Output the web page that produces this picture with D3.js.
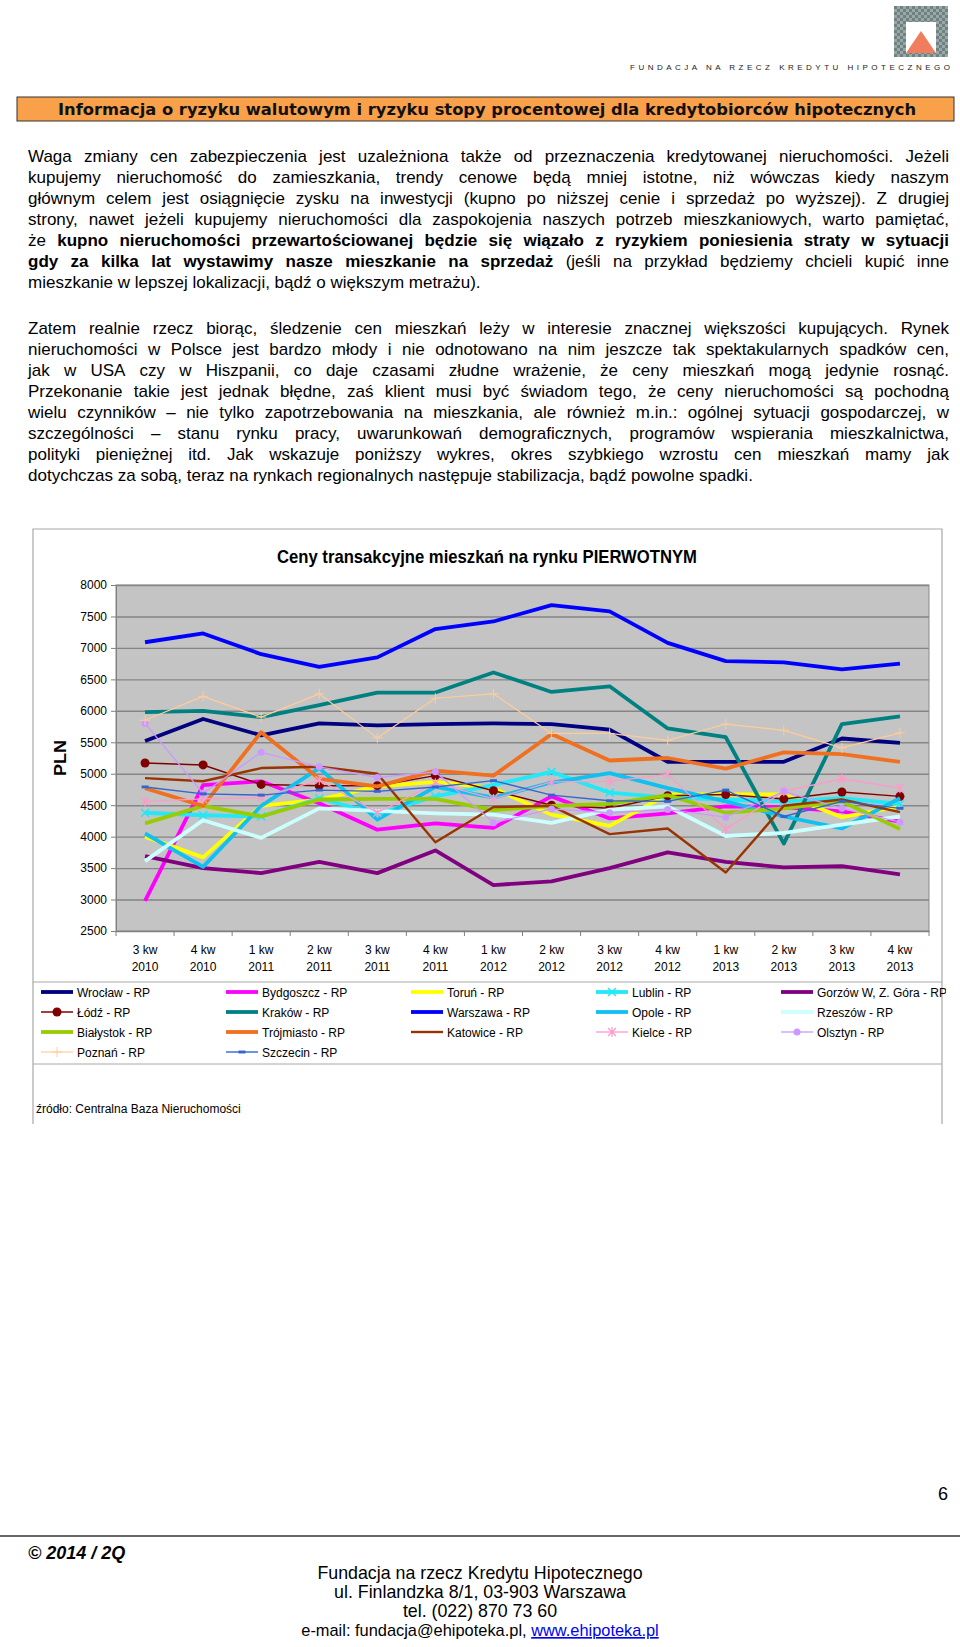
<!DOCTYPE html>
<html><head><meta charset="utf-8">
<script src="https://cdn.jsdelivr.net/npm/d3@7"></script>
<style>
body{margin:0;background:#fff;}
svg{display:block;}
</style></head><body>
<svg id="page" width="960" height="1647"></svg>
<script>
// ---------------- DATA ----------------
const categories = ["3 kw|2010","4 kw|2010","1 kw|2011","2 kw|2011","3 kw|2011","4 kw|2011","1 kw|2012","2 kw|2012","3 kw|2012","4 kw|2012","1 kw|2013","2 kw|2013","3 kw|2013","4 kw|2013"];
const yTicks = [2500,3000,3500,4000,4500,5000,5500,6000,6500,7000,7500,8000];

const wroclaw    = [5520,5870,5610,5800,5770,5790,5800,5790,5700,5190,5190,5190,5560,5490];
const bydgoszcz  = [2980,4820,4880,4530,4110,4210,4140,4640,4290,4370,4480,4470,4400,4240];
const torun      = [4000,3670,4490,4590,4800,4870,4770,4350,4170,4670,4670,4670,4310,4480];
const lublin     = [4380,4340,4320,4610,4360,4640,4820,5030,4700,4620,4590,4560,4610,4520];
const gorzow     = [3690,3500,3420,3600,3420,3780,3230,3290,3500,3750,3600,3510,3530,3400];
const lodz       = [5170,5140,4830,4810,4810,4970,4730,4500,4450,4650,4670,4600,4710,4640];
const krakow     = [5980,6000,5900,6090,6290,6290,6610,6300,6390,5720,5580,3890,5790,5910];
const warszawa   = [7090,7230,6900,6700,6850,7300,7420,7680,7580,7080,6790,6770,6660,6750];
const opole      = [4050,3520,4490,5090,4270,4790,4620,4860,5010,4770,4560,4320,4130,4610];
const rzeszow    = [3610,4260,3980,4450,4410,4370,4350,4220,4430,4480,4010,4060,4190,4320];
const bialystok  = [4210,4490,4320,4590,4600,4600,4420,4490,4520,4660,4380,4450,4560,4120];
const trojmiasto = [4770,4490,5660,4920,4800,5050,4970,5630,5210,5250,5080,5340,5310,5190];
const katowice   = [4930,4880,5090,5110,5000,3910,4470,4490,4040,4130,3430,4490,4590,4390];
const kielce     = [4560,4600,4620,4900,4380,4850,4600,4870,4880,4990,4120,4720,4920,4770];
const olsztyn    = [5800,4690,5340,5110,4940,5030,4220,4440,4380,4430,4310,4720,4450,4230];
const poznan     = [5850,6230,5900,6270,5570,6200,6270,5640,5640,5530,5790,5690,5410,5650];
const szczecin   = [4790,4680,4660,4740,4720,4790,4890,4660,4570,4560,4740,4320,4560,4450];

const seriesNames = ["Wrocław  - RP","Bydgoszcz - RP","Toruń - RP","Lublin - RP","Gorzów  W, Z. Góra - RP",
  "Łódź - RP","Kraków  - RP","Warszawa - RP","Opole - RP","Rzeszów  - RP",
  "Białystok - RP","Trójmiasto - RP","Katowice - RP","Kielce - RP","Olsztyn - RP",
  "Poznań - RP","Szczecin - RP"];
const seriesValues = [wroclaw,bydgoszcz,torun,lublin,gorzow,lodz,krakow,warszawa,opole,rzeszow,
  bialystok,trojmiasto,katowice,kielce,olsztyn,poznan,szczecin];

const chartTitle = "Ceny transakcyjne mieszkań na rynku PIERWOTNYM";
const yLabel = "PLN";
const sourceText = "źródło: Centralna Baza Nieruchomości";

const para1 = [
 "Waga zmiany cen zabezpieczenia jest uzależniona także od przeznaczenia kredytowanej nieruchomości. Jeżeli",
 "kupujemy nieruchomość do zamieszkania, trendy cenowe będą mniej istotne, niż wówczas kiedy naszym",
 "głównym celem jest osiągnięcie zysku na inwestycji (kupno po niższej cenie i sprzedaż po wyższej). Z drugiej",
 "strony, nawet jeżeli kupujemy nieruchomości dla zaspokojenia naszych potrzeb mieszkaniowych, warto pamiętać,",
 "że **kupno nieruchomości przewartościowanej będzie się wiązało z ryzykiem poniesienia straty w sytuacji**",
 "**gdy za kilka lat wystawimy nasze mieszkanie na sprzedaż** (jeśli na przykład będziemy chcieli kupić inne",
 "mieszkanie w lepszej lokalizacji, bądź o większym metrażu)."
];
const para2 = [
 "Zatem realnie rzecz biorąc, śledzenie cen mieszkań leży w interesie znacznej większości kupujących. Rynek",
 "nieruchomości w Polsce jest bardzo młody i nie odnotowano na nim jeszcze tak spektakularnych spadków cen,",
 "jak w USA czy w Hiszpanii, co daje czasami złudne wrażenie, że ceny mieszkań mogą jedynie rosnąć.",
 "Przekonanie takie jest jednak błędne, zaś klient musi być świadom tego, że ceny nieruchomości są pochodną",
 "wielu czynników – nie tylko zapotrzebowania na mieszkania, ale również m.in.: ogólnej sytuacji gospodarczej, w",
 "szczególności – stanu rynku pracy, uwarunkowań demograficznych, programów wspierania mieszkalnictwa,",
 "polityki pieniężnej itd. Jak wskazuje poniższy wykres, okres szybkiego wzrostu cen mieszkań mamy jak",
 "dotychczas za sobą, teraz na rynkach regionalnych następuje stabilizacja, bądź powolne spadki."
];
const footerLines = ["Fundacja na rzecz Kredytu Hipotecznego","ul. Finlandzka 8/1, 03-903 Warszawa","tel. (022) 870 73 60"];

// ---------------- STYLES ----------------
const FONT = "'Liberation Sans', Arial, sans-serif";
const seriesStyle = [
 {c:"#000080", w:3.8},
 {c:"#FF00FF", w:3.8},
 {c:"#FFFF00", w:3.8},
 {c:"#22E8F8", w:3.8, m:"x"},
 {c:"#800080", w:3.8},
 {c:"#800000", w:1.5, m:"circle", r:4.5},
 {c:"#008080", w:3.8},
 {c:"#0000FF", w:3.8},
 {c:"#10C0F0", w:3.8},
 {c:"#CCFFFF", w:3.8},
 {c:"#99CC00", w:3.8},
 {c:"#F07020", w:3.8},
 {c:"#993300", w:2.4},
 {c:"#FF99CC", w:1.3, m:"star"},
 {c:"#CC99FF", w:1.3, m:"circle", r:3.5},
 {c:"#FFCC99", w:1.2, m:"plus"},
 {c:"#3366CC", w:1.4, m:"dash"}
];

const svg = d3.select("#page");
svg.append("rect").attr("width",960).attr("height",1647).attr("fill","#fff");

// ---------------- HEADER ----------------
const defs = svg.append("defs");
const pat = defs.append("pattern").attr("id","chk").attr("width",6).attr("height",6).attr("patternUnits","userSpaceOnUse");
pat.append("rect").attr("width",6).attr("height",6).attr("fill","#9aa8a8");
pat.append("rect").attr("width",3).attr("height",3).attr("fill","#6f8282");
pat.append("rect").attr("x",3).attr("y",3).attr("width",3).attr("height",3).attr("fill","#6f8282");
const logo = svg.append("g");
logo.append("rect").attr("x",894).attr("y",6).attr("width",54).attr("height",51).attr("fill","url(#chk)");
logo.append("rect").attr("x",906).attr("y",22).attr("width",30).attr("height",31).attr("fill","#fff");
logo.append("path").attr("d","M921,31 L936,53 L906,53 Z").attr("fill","#F07E5E");
svg.append("text").attr("x",630).attr("y",70).attr("font-family",FONT).attr("font-size",8)
  .attr("textLength",320).attr("lengthAdjust","spacing").attr("fill","#222")
  .text("FUNDACJA NA RZECZ KREDYTU HIPOTECZNEGO");

svg.append("rect").attr("x",17).attr("y",97).attr("width",937).attr("height",24)
  .attr("fill","#F9A04A").attr("stroke","#333").attr("stroke-width",1);
svg.append("text").attr("x",58).attr("y",115).attr("font-family","'DejaVu Sans', Verdana, sans-serif")
  .attr("font-weight","bold").attr("font-size",16).attr("textLength",858).attr("lengthAdjust","spacingAndGlyphs")
  .attr("fill","#111").text("Informacja o ryzyku walutowym i ryzyku stopy procentowej dla kredytobiorców hipotecznych");

// ---------------- BODY TEXT (justified) ----------------
const BODY_SIZE = 17;
const meas = svg.append("text").attr("font-family",FONT).attr("font-size",BODY_SIZE).attr("x",-1000).attr("y",-1000);
function measure(t,bold){ meas.attr("font-weight",bold?"bold":"normal").text(t); return meas.node().getComputedTextLength(); }
const spaceW = measure("a a",false)-measure("aa",false);
function drawLine(str, x0, width, baseline, justify){
  const parts = str.split("**");
  const words = [];
  parts.forEach((p,i)=>{ p.split(" ").filter(s=>s.length).forEach(w=>words.push({t:w,b:i%2===1})); });
  words.forEach(w=>w.w=measure(w.t,w.b));
  const total = d3.sum(words,w=>w.w);
  const gap = justify ? (width-total)/(words.length-1) : spaceW;
  let xx = x0;
  const g = svg.append("g");
  words.forEach(w=>{
    g.append("text").attr("x",xx).attr("y",baseline).attr("font-family",FONT).attr("font-size",BODY_SIZE)
      .attr("font-weight",w.b?"bold":"normal").attr("fill","#000").text(w.t);
    xx += w.w + gap;
  });
}
para1.forEach((l,i)=>drawLine(l,28,921,162+i*21,i<para1.length-1));
para2.forEach((l,i)=>drawLine(l,28,921,334+i*21,i<para2.length-1));
meas.remove();

// ---------------- CHART ----------------
const box = {l:33, t:529, r:942, b:1124};
const pl = 116, pr = 929, pt = 585, pb = 931;
const cg = svg.append("g");
cg.append("path").attr("d",`M${box.l},${box.b} L${box.l},${box.t} L${box.r},${box.t} L${box.r},${box.b}`)
  .attr("fill","none").attr("stroke","#a8a8a8").attr("stroke-width",1.2);

cg.append("text").attr("x",(277+697)/2).attr("y",563).attr("text-anchor","middle")
  .attr("font-family",FONT).attr("font-weight","bold").attr("font-size",18.5)
  .attr("textLength",420).attr("lengthAdjust","spacingAndGlyphs").text(chartTitle);

const xB = d3.scaleBand().domain(categories).range([pl,pr]).padding(0);
const xc = c => xB(c)+xB.bandwidth()/2;
const y = d3.scaleLinear().domain([2500,8000]).range([pb,pt]);

cg.append("rect").attr("x",pl).attr("y",pt).attr("width",pr-pl).attr("height",pb-pt).attr("fill","#C4C4C4");

// gridlines
const grid = cg.append("g").attr("transform",`translate(${pl},0)`)
  .call(d3.axisLeft(y).tickValues(yTicks).tickSize(-(pr-pl)).tickFormat(""));
grid.selectAll("line").attr("stroke","#858585").attr("stroke-width",1.4);
grid.select(".domain").remove();
cg.append("rect").attr("x",pl).attr("y",pt).attr("width",pr-pl).attr("height",pb-pt)
  .attr("fill","none").attr("stroke","#8a8a8a").attr("stroke-width",1);

// y axis
const ya = cg.append("g").attr("transform",`translate(${pl},0)`)
  .call(d3.axisLeft(y).tickValues(yTicks).tickSize(5).tickPadding(4).tickFormat(d3.format("d")));
ya.select(".domain").attr("stroke","#808080");
ya.selectAll("line").attr("stroke","#808080");
ya.selectAll("text").attr("font-family",FONT).attr("font-size",12).attr("fill","#000");

// x axis
const xa = cg.append("g").attr("transform",`translate(0,${pb})`)
  .call(d3.axisBottom(xB).tickSize(0).tickPadding(0).tickFormat(""));
xa.select(".domain").attr("stroke","#808080");
const bounds = categories.map(c=>xB(c)).concat([pr]);
cg.append("g").selectAll("line").data(bounds).join("line")
  .attr("x1",d=>d).attr("x2",d=>d).attr("y1",pb).attr("y2",pb+5).attr("stroke","#808080");
const xl = cg.append("g").selectAll("text").data(categories).join("text")
  .attr("x",d=>xc(d)).attr("text-anchor","middle").attr("font-family",FONT).attr("font-size",12).attr("fill","#000");
xl.append("tspan").attr("x",d=>xc(d)).attr("y",953.5).text(d=>d.split("|")[0]);
xl.append("tspan").attr("x",d=>xc(d)).attr("y",970.5).text(d=>d.split("|")[1]);

// PLN label
cg.append("text").attr("transform","translate(66,758) rotate(-90)").attr("text-anchor","middle")
  .attr("font-family",FONT).attr("font-weight","bold").attr("font-size",17)
  .attr("textLength",36).attr("lengthAdjust","spacingAndGlyphs").text(yLabel);

// markers
function marker(g, type, cx, cy, st){
  const c = st.c;
  if(type==="circle") g.append("circle").attr("cx",cx).attr("cy",cy).attr("r",st.r||4).attr("fill",c);
  else if(type==="x") g.append("path").attr("d",`M${cx-4},${cy-4}L${cx+4},${cy+4}M${cx-4},${cy+4}L${cx+4},${cy-4}`).attr("stroke",c).attr("stroke-width",1.6);
  else if(type==="star") g.append("path").attr("d",`M${cx-4},${cy-4}L${cx+4},${cy+4}M${cx-4},${cy+4}L${cx+4},${cy-4}M${cx},${cy-5}L${cx},${cy+5}`).attr("stroke",c).attr("stroke-width",1.2);
  else if(type==="plus") g.append("path").attr("d",`M${cx-5},${cy}L${cx+5},${cy}M${cx},${cy-5}L${cx},${cy+5}`).attr("stroke",c).attr("stroke-width",1);
  else if(type==="dash") g.append("path").attr("d",`M${cx-3.5},${cy}L${cx+3.5},${cy}`).attr("stroke",c).attr("stroke-width",st.w+1.5);
}

const line = d3.line().x((d,i)=>xc(categories[i])).y(d=>y(d));
const lg = cg.append("g");
seriesValues.forEach((vals,si)=>{
  const st = seriesStyle[si];
  const g = lg.append("g");
  g.append("path").datum(vals).attr("d",line).attr("fill","none").attr("stroke",st.c)
    .attr("stroke-width",st.w).attr("stroke-linejoin","round").attr("stroke-linecap","butt");
  if(st.m) vals.forEach((v,i)=>marker(g,st.m,xc(categories[i]),y(v),st));
});

// legend
cg.append("line").attr("x1",box.l).attr("x2",box.r).attr("y1",982).attr("y2",982).attr("stroke","#a8a8a8");
cg.append("line").attr("x1",box.l).attr("x2",box.r).attr("y1",1064).attr("y2",1064).attr("stroke","#a8a8a8");
defs.append("clipPath").attr("id","legclip").append("rect").attr("x",0).attr("y",975).attr("width",946).attr("height",100);
const leg = cg.append("g").attr("clip-path","url(#legclip)");
const colX = [41,226,411,596,781], rowY = [992,1012,1032,1052];
seriesNames.forEach((n,i)=>{
  const st = seriesStyle[i];
  const x0 = colX[i%5], yy = rowY[Math.floor(i/5)];
  const g = leg.append("g");
  g.append("line").attr("x1",x0).attr("x2",x0+32).attr("y1",yy).attr("y2",yy).attr("stroke",st.c).attr("stroke-width",st.w);
  if(st.m) marker(g,st.m,x0+16,yy,st);
  g.append("text").attr("x",x0+36).attr("y",yy+4.5).attr("font-family",FONT).attr("font-size",12).attr("fill","#000").text(n);
});

cg.append("text").attr("x",36).attr("y",1113).attr("font-family",FONT).attr("font-size",12).attr("fill","#000").text(sourceText);

// ---------------- FOOTER ----------------
svg.append("text").attr("x",943).attr("y",1500).attr("text-anchor","middle").attr("font-family",FONT).attr("font-size",18).text("6");
svg.append("line").attr("x1",0).attr("x2",960).attr("y1",1536).attr("y2",1536).attr("stroke","#333").attr("stroke-width",1.5);
svg.append("text").attr("x",28).attr("y",1559).attr("font-family",FONT).attr("font-size",18)
  .attr("font-weight","bold").attr("font-style","italic").text("© 2014 / 2Q");
footerLines.forEach((t,i)=>svg.append("text").attr("x",480).attr("y",1579+i*19).attr("text-anchor","middle")
  .attr("font-family",FONT).attr("font-size",17.8).text(t));
const ft = svg.append("text").attr("x",480).attr("y",1636).attr("text-anchor","middle").attr("font-family",FONT).attr("font-size",16.4);
ft.append("tspan").text("e-mail: fundacja@ehipoteka.pl, ");
ft.append("tspan").attr("fill","#0000EE").attr("text-decoration","underline").text("www.ehipoteka.pl");
</script>
</body></html>
